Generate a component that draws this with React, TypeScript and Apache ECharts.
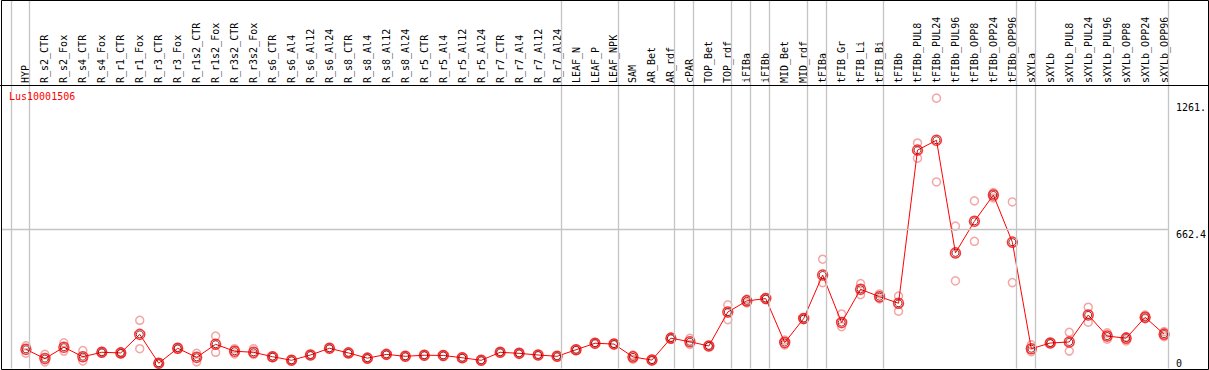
import React, { useEffect, useRef } from "react";
import * as echarts from "echarts";

const categories = [
  "HYP", "R_s2_CTR", "R_s2_Fox", "R_s4_CTR", "R_s4_Fox", "R_r1_CTR", "R_r1_Fox", "R_r3_CTR", "R_r3_Fox",
  "R_r1s2_CTR", "R_r1s2_Fox", "R_r3s2_CTR", "R_r3s2_Fox", "R_s6_CTR", "R_s6_Al4", "R_s6_Al12", "R_s6_Al24",
  "R_s8_CTR", "R_s8_Al4", "R_s8_Al12", "R_s8_Al24", "R_r5_CTR", "R_r5_Al4", "R_r5_Al12", "R_r5_Al24",
  "R_r7_CTR", "R_r7_Al4", "R_r7_Al12", "R_r7_Al24", "LEAF_N", "LEAF_P", "LEAF_NPK", "SAM", "AR_Bet", "AR_rdf",
  "cPAR", "TOP_Bet", "TOP_rdf", "iFIBa", "iFIBb", "MID_Bet", "MID_rdf", "tFIBa", "tFIB_Gr", "tFIB_Li", "tFIB_Bi",
  "tFIBb", "tFIBb_PUL8", "tFIBb_PUL24", "tFIBb_PUL96", "tFIBb_OPP8", "tFIBb_OPP24", "tFIBb_OPP96",
  "sXYLa", "sXYLb", "sXYLb_PUL8", "sXYLb_PUL24", "sXYLb_PUL96", "sXYLb_OPP8", "sXYLb_OPP24", "sXYLb_OPP96",
];

const meanValues = [
  91, 47, 101, 56, 77, 74, 162, 25, 96, 53, 115, 82, 77, 56, 39, 64, 96, 74, 49, 67, 58, 63, 62, 51, 39,
  77, 72, 64, 58, 89, 120, 116, 55, 40, 144, 127, 107, 268, 321, 332, 123, 237, 444, 218, 376, 341,
  310, 1037, 1084, 549, 699, 824, 600, 94, 121, 126, 254, 154, 144, 243, 163,
];

const replicate1 = [
  108, 67, 122, 85, 74, 71, 229, 23, 100, 72, 154, 94, 94, 54, 37, 62, 94, 72, 47, 65, 56, 61, 60, 49, 37,
  75, 70, 62, 56, 87, 118, 114, 64, 38, 141, 143, 105, 302, 330, 329, 135, 234, 519, 259, 403, 354,
  344, 1071, 1284, 676, 796, 835, 791, 112, 119, 172, 291, 169, 150, 254, 175,
];

const replicate2 = [
  73, 31, 83, 36, 80, 77, 94, 27, 92, 32, 77, 69, 67, 58, 41, 66, 98, 76, 51, 69, 60, 65, 64, 53, 41,
  79, 74, 66, 60, 91, 122, 118, 44, 42, 147, 114, 109, 232, 312, 335, 112, 240, 408, 199, 351, 330,
  272, 999, 886, 416, 604, 810, 408, 80, 123, 83, 220, 139, 131, 237, 151,
];

// last category index of each group (a separator is drawn just after it)
const groupEnds = [-1, 0, 28, 31, 34, 35, 37, 38, 39, 41, 42, 45, 52, 53, 60];

const yTickValues = [0, 662.4, 1261];
const yTickLabels = ["0", "662.4", "1261."];

const geneName = "Lus10001506";

const MONO = "'DejaVu Sans Mono', monospace";

export default function App() {
  const ref = useRef<HTMLDivElement>(null);

  useEffect(() => {
    if (!ref.current) return;
    const chart = echarts.init(ref.current, undefined, { renderer: "svg" });

    const idx = categories.map((_, i) => i);
    const meanData = meanValues.map((v, i) => [i, v]);
    const repData = [
      ...replicate1.map((v, i) => [i, v]),
      ...replicate2.map((v, i) => [i, v]),
    ];
    const yLabel = (v: number) => {
      let best = 0;
      yTickValues.forEach((t, k) => {
        if (Math.abs(t - v) < Math.abs(yTickValues[best] - v)) best = k;
      });
      return yTickLabels[best];
    };

    chart.setOption({
      animation: false,
      title: {
        text: geneName,
        left: 9,
        top: 91,
        padding: 0,
        textStyle: { color: "#ff0000", fontSize: 10, fontWeight: "normal", fontFamily: MONO },
      },
      grid: { left: 1, right: 38, top: 0, bottom: 1.5, containLabel: false },
      xAxis: {
        type: "value",
        min: -1.3144,
        max: 60.2,
        position: "top",
        offset: -85,
        axisLine: { show: false },
        axisTick: { show: false },
        splitLine: { show: false },
        axisLabel: {
          customValues: idx,
          rotate: 90,
          margin: 2,
          fontSize: 10,
          fontFamily: MONO,
          color: "#000",
          formatter: (v: number) => categories[Math.round(v)] ?? "",
        },
      },
      yAxis: [
        {
          type: "value",
          min: 0,
          max: 1750,
          position: "right",
          axisLine: { show: false },
          axisTick: { show: false },
          splitLine: { show: false },
          axisLabel: {
            customValues: yTickValues.filter((v) => v > 0),
            verticalAlign: "top",
            align: "left",
            margin: 8,
            lineHeight: 10,
            fontSize: 10,
            fontFamily: MONO,
            color: "#000",
            formatter: yLabel,
          },
        },
        {
          type: "value",
          min: 0,
          max: 1750,
          position: "right",
          axisLine: { show: false },
          axisTick: { show: false },
          splitLine: { show: false },
          axisLabel: {
            customValues: yTickValues.filter((v) => v === 0),
            verticalAlign: "bottom",
            align: "left",
            margin: 8,
            lineHeight: 10,
            fontSize: 10,
            fontFamily: MONO,
            color: "#000",
            formatter: yLabel,
          },
        },
      ],
      graphic: [
        {
          type: "rect",
          shape: { x: 1.5, y: 0.5, width: 1207, height: 369 },
          style: { fill: "none", stroke: "#000", lineWidth: 1 },
          z: 100,
          silent: true,
        },
        {
          type: "line",
          shape: { x1: 0, y1: 85.5, x2: 1209, y2: 85.5 },
          style: { stroke: "#000", lineWidth: 1 },
          z: 100,
          silent: true,
        },
      ],
      series: [
        {
          type: "scatter",
          name: "replicates",
          data: repData,
          symbol: "circle",
          symbolSize: 8,
          itemStyle: { color: "rgba(0,0,0,0)", borderColor: "#f09090", borderWidth: 1.5 },
          z: 2,
          markLine: {
            silent: true,
            symbol: ["none", "none"],
            label: { show: false },
            lineStyle: { color: "#c4c4c4", width: 1.3, type: "solid" },
            data: [
              ...groupEnds.map((g) => ({ xAxis: g + 0.2 })),
              { yAxis: 662.4 },
            ],
          },
        },
        {
          type: "line",
          name: "mean",
          data: meanData,
          symbol: "none",
          lineStyle: { color: "#ff0000", width: 1 },
          z: 3,
        },
        {
          type: "scatter",
          name: "mean-outer",
          data: meanData,
          symbol: "circle",
          symbolSize: 10,
          itemStyle: { color: "rgba(0,0,0,0)", borderColor: "#ff0000", borderWidth: 1.5 },
          z: 4,
        },
        {
          type: "scatter",
          name: "mean-inner",
          data: meanData,
          symbol: "circle",
          symbolSize: 7,
          itemStyle: { color: "rgba(0,0,0,0)", borderColor: "#600000", borderWidth: 1 },
          z: 5,
        },
      ],
    });

    return () => chart.dispose();
  }, []);

  return (
    <div
      ref={ref}
      style={{ position: "absolute", left: 0, top: 0, width: 1209, height: 370, background: "#fff" }}
    />
  );
}
